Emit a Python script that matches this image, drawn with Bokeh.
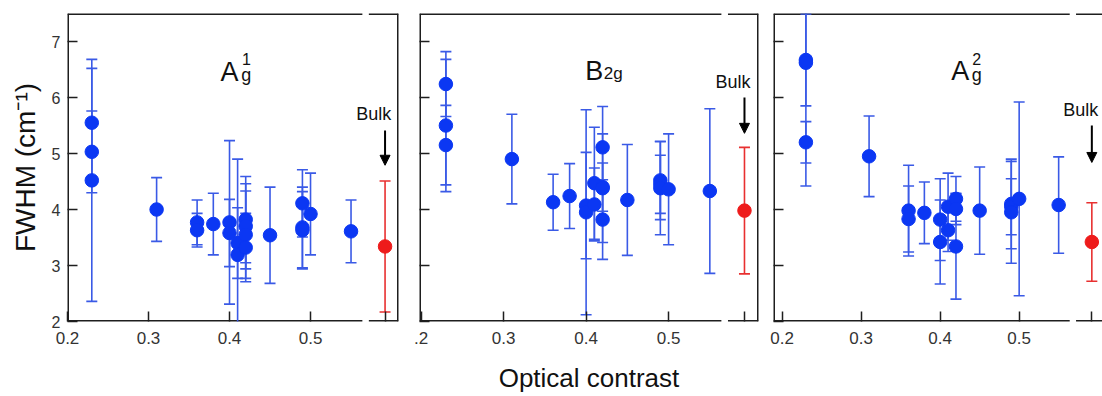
from bokeh.plotting import figure
from bokeh.layouts import row
from bokeh.models import (Range1d, FixedTicker, Label, Arrow, NormalHead,
                          ColumnDataSource, CustomJSTickFormatter)
from bokeh.embed import file_html
from bokeh.resources import INLINE

# ---------------- data ----------------
x_tick_values = [0.2, 0.3, 0.4, 0.5]
y_tick_values = [2, 3, 4, 5, 6, 7]
bulk_position = 0.592   # where the "Bulk" column sits on the broken axis

# A_g^1
a1_x = [0.23, 0.23, 0.23, 0.31, 0.36, 0.36, 0.38, 0.40, 0.40, 0.41, 0.41,
        0.42, 0.42, 0.42, 0.42, 0.45, 0.49, 0.49, 0.49, 0.50, 0.55]
a1_y = [5.55, 5.03, 4.52, 4.00, 3.77, 3.63, 3.74, 3.77, 3.58, 3.40, 3.19,
        3.82, 3.70, 3.55, 3.32, 3.54, 4.11, 3.68, 3.63, 3.92, 3.61]
a1_err = [0.97, 0.73, 2.16, 0.57, 0.40, 0.30, 0.55, 1.46, 0.60, 0.63, 1.71,
          0.77, 0.76, 0.78, 0.61, 0.86, 0.60, 0.72, 0.69, 0.73, 0.56]
a1_bulk, a1_bulk_err = 3.34, 1.17

# B_2g
b2_x = [0.23, 0.23, 0.23, 0.31, 0.36, 0.38, 0.40, 0.40, 0.41, 0.41,
        0.42, 0.42, 0.42, 0.42, 0.45, 0.49, 0.49, 0.49, 0.50, 0.55]
b2_y = [6.24, 5.50, 5.15, 4.90, 4.13, 4.24, 4.07, 3.95, 4.47, 4.09,
        5.11, 4.40, 4.38, 3.82, 4.17, 4.52, 4.45, 4.38, 4.36, 4.33]
b2_err = [0.58, 1.18, 0.71, 0.80, 0.50, 0.58, 0.95, 1.83, 1.00, 0.65,
          0.73, 0.43, 0.97, 0.71, 0.99, 0.70, 0.52, 0.83, 0.99, 1.47]
b2_bulk, b2_bulk_err = 3.98, 1.13

# A_g^2
a2_x = [0.23, 0.23, 0.23, 0.31, 0.36, 0.36, 0.38, 0.40, 0.40, 0.41, 0.41,
        0.42, 0.42, 0.42, 0.45, 0.49, 0.49, 0.49, 0.50, 0.55]
a2_y = [6.67, 6.62, 5.20, 4.95, 3.98, 3.83, 3.94, 3.82, 3.42, 4.05, 3.63,
        4.19, 4.01, 3.34, 3.98, 4.10, 4.05, 3.95, 4.19, 4.08]
a2_err = [0.82, 2.20, 0.37, 0.72, 0.81, 0.59, 0.55, 0.73, 0.75, 0.60, 0.38,
          0.40, 0.28, 0.94, 0.78, 0.80, 0.50, 0.91, 1.73, 0.86]
a2_bulk, a2_bulk_err = 3.42, 0.70

# ---------------- style ----------------
FONT = "Liberation Sans"
BLUE = "#0b37f3"
BAR_BLUE = "#3a5ae6"
RED = "#ee1b1b"
BAR_RED = "#e83030"
FRAME = "#1e1e1e"
Y_MIN, Y_MAX = 2, 7.5
BREAK_LO, BREAK_HI = 0.564, 0.572
H = 396
TOP, BOTTOM = 13, 75


def panel(xs, ys, errs, by, berr, x0, x1, frame_w, bl, br, first=False,
          x_fmt="main", right_edge=True, xlabel=None):
    w = bl + frame_w + br
    p = figure(width=w, height=H, output_backend="svg", toolbar_location=None,
               x_range=Range1d(x0, x1), y_range=Range1d(Y_MIN, Y_MAX),
               min_border_left=bl, min_border_right=br,
               min_border_top=TOP, min_border_bottom=BOTTOM)
    p.outline_line_color = None
    p.xgrid.visible = False
    p.ygrid.visible = False
    p.background_fill_color = "white"
    p.border_fill_color = "white"

    # axes
    xa = p.xaxis[0]
    xa.ticker = FixedTicker(ticks=x_tick_values + [bulk_position])
    if x_fmt == "short":
        code = "if (tick > 0.55) return ''; if (tick < 0.25) return '.2'; return tick.toFixed(1);"
    else:
        code = "if (tick > 0.55) return ''; return tick.toFixed(1);"
    xa.formatter = CustomJSTickFormatter(code=code)
    xa.axis_line_color = None
    xa.major_tick_in = 10
    xa.major_tick_out = 0
    xa.minor_tick_line_color = None
    xa.major_tick_line_color = FRAME
    xa.major_tick_line_width = 1.5
    xa.major_label_text_font = FONT
    xa.major_label_text_font_size = "17px"
    xa.major_label_text_color = "#333333"
    xa.major_label_standoff = 10
    if xlabel:
        xa.axis_label = xlabel
        xa.axis_label_text_font = FONT
        xa.axis_label_text_font_size = "26px"
        xa.axis_label_text_font_style = "normal"
        xa.axis_label_text_color = "#111111"
        xa.axis_label_standoff = 16

    ya = p.yaxis[0]
    ya.ticker = FixedTicker(ticks=y_tick_values)
    ya.axis_line_color = None
    ya.major_tick_in = 10
    ya.major_tick_out = 0
    ya.minor_tick_line_color = None
    ya.major_tick_line_color = FRAME
    ya.major_tick_line_width = 1.5
    ya.major_label_text_font = FONT
    ya.major_label_text_font_size = "16px"
    ya.major_label_text_color = "#333333"
    ya.major_label_standoff = 7
    if first:
        ya.axis_label = "FWHM (cm\u207b\u00b9)"
        ya.axis_label_text_font = FONT
        ya.axis_label_text_font_size = "28px"
        ya.axis_label_text_font_style = "normal"
        ya.axis_label_text_color = "#111111"
        ya.axis_label_standoff = 8
    else:
        ya.formatter = CustomJSTickFormatter(code="return '';")

    # broken frame (half of each line is clipped at the frame edge)
    fx = [[x0, x0], [x0, BREAK_LO], [BREAK_HI, x1], [x0, BREAK_LO], [BREAK_HI, x1]]
    fy = [[Y_MIN, Y_MAX], [Y_MIN, Y_MIN], [Y_MIN, Y_MIN], [Y_MAX, Y_MAX], [Y_MAX, Y_MAX]]
    if right_edge:
        fx.append([x1, x1])
        fy.append([Y_MIN, Y_MAX])
    p.multi_line(xs=fx, ys=fy, line_color=FRAME, line_width=3)

    # data
    src = ColumnDataSource(dict(
        x=xs, y=ys,
        lo=[y - e for y, e in zip(ys, errs)],
        hi=[y + e for y, e in zip(ys, errs)]))
    p.segment(x0="x", y0="lo", x1="x", y1="hi", source=src,
              line_color=BAR_BLUE, line_width=1.6)
    for key in ("lo", "hi"):
        p.scatter(x="x", y=key, source=src, marker="dash", size=11,
                  line_color=BAR_BLUE, line_width=1.6)
    p.scatter(x="x", y="y", source=src, size=13.5,
              fill_color=BLUE, line_color=BLUE)

    bsrc = ColumnDataSource(dict(x=[bulk_position], y=[by],
                                 lo=[by - berr], hi=[by + berr]))
    p.segment(x0="x", y0="lo", x1="x", y1="hi", source=bsrc,
              line_color=BAR_RED, line_width=1.6)
    for key in ("lo", "hi"):
        p.scatter(x="x", y=key, source=bsrc, marker="dash", size=11,
                  line_color=BAR_RED, line_width=1.6)
    p.scatter(x="x", y="y", source=bsrc, size=13.5,
              fill_color=RED, line_color=RED)
    return p


p1 = panel(a1_x, a1_y, a1_err, a1_bulk, a1_bulk_err,
           0.2, 0.6086, 331, 67, 10, first=True)
p2 = panel(b2_x, b2_y, b2_err, b2_bulk, b2_bulk_err,
           0.198, 0.609, 339, 11, 8, x_fmt="short", xlabel="Optical contrast")
p3 = panel(a2_x, a2_y, a2_err, a2_bulk, a2_bulk_err,
           0.189, 0.6055, 329, 7, 0, right_edge=False)


def txt(p, x, y, s, size, align="left"):
    p.add_layout(Label(x=x, y=y, text=s, text_font=FONT,
                       text_font_size=size, text_color="#111111",
                       text_align=align, text_baseline="alphabetic"))


# panel titles
txt(p1, 0.400, 6.45, "A", "27px", "center")
txt(p1, 0.4155, 6.69, "1", "16px")
txt(p1, 0.4145, 6.41, "g", "18px")

txt(p2, 0.410, 6.48, "B", "27px", "center")
txt(p2, 0.4215, 6.43, "2g", "17px")

txt(p3, 0.4253, 6.48, "A", "27px", "center")
txt(p3, 0.4405, 6.69, "2", "16px")
txt(p3, 0.4400, 6.41, "g", "18px")

# Bulk labels and arrows
for p, ty, a_start, a_end in ((p1, 5.71, 5.41, 4.79),
                              (p2, 6.27, 6.00, 5.36),
                              (p3, 5.77, 5.50, 4.84)):
    txt(p, 0.578, ty, "Bulk", "18px", "center")
    p.add_layout(Arrow(end=NormalHead(size=10, fill_color="black",
                                      line_color="black"),
                       x_start=bulk_position, y_start=a_start,
                       x_end=bulk_position, y_end=a_end,
                       line_color="black", line_width=2))

layout = row(p1, p2, p3)
open("out.html", "w").write(file_html(layout, INLINE))
